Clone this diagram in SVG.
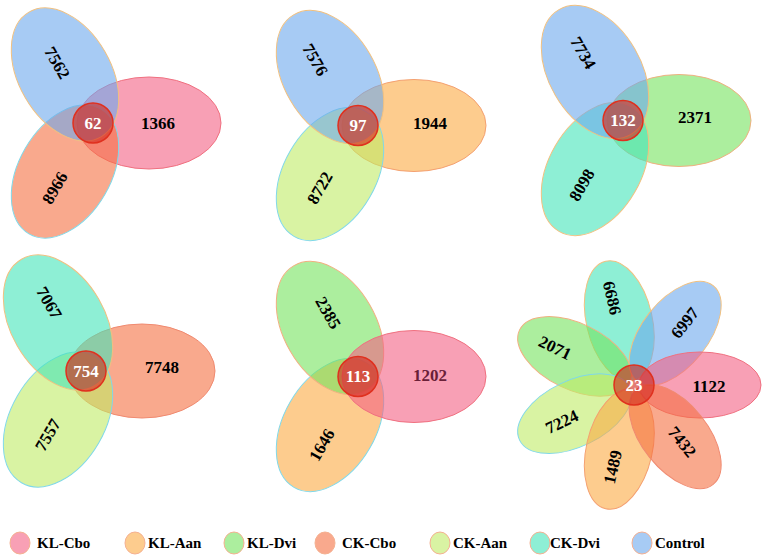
<svg xmlns="http://www.w3.org/2000/svg" width="767" height="556" viewBox="0 0 767 556">
<style>
.p{stroke-width:1}
.pink{fill:#F36184;fill-opacity:.6;stroke:#F07080}
.blue{fill:#6CA8ED;fill-opacity:.6;stroke:#F0C080}
.salmon{fill:#F57041;fill-opacity:.6;stroke:#F08A70}
.orange{fill:#FCAA43;fill-opacity:.6;stroke:#F4A070}
.green{fill:#75E35D;fill-opacity:.6;stroke:#F0B080}
.lgreen{fill:#C0EB66;fill-opacity:.6;stroke:#80D8E8}
.teal{fill:#43E5B9;fill-opacity:.6;stroke:#F0C080}
.cy{stroke:#80D8E8}
.core{fill:#D42A1E;fill-opacity:.62;stroke:#E0301E;stroke-width:1.5}
text{font-family:"Liberation Serif","Times New Roman",serif;font-weight:bold}
.n{font-size:17px;fill:#000;text-anchor:middle;dominant-baseline:central}
.c{font-size:17px;fill:#fff;text-anchor:middle;dominant-baseline:central}
.lg{font-size:15px;fill:#000}
.le{stroke:#F5B090;stroke-width:1}
</style>

<g id="venn1">
<ellipse class="p pink" cx="149" cy="123" rx="72" ry="46"/>
<ellipse class="p salmon cy" cx="149" cy="123" rx="72" ry="46" transform="rotate(120 93 123)"/>
<ellipse class="p blue" cx="149" cy="123" rx="72" ry="46" transform="rotate(240 93 123)"/>
<circle class="core" cx="93" cy="123" r="20"/>
<text class="c" x="93" y="123">62</text>
<text class="n" x="158" y="123">1366</text>
<text class="n" transform="translate(57 63) rotate(60)">7562</text>
<text class="n" transform="translate(55 188) rotate(-60)">8966</text>
</g>

<g id="venn2">
<ellipse class="p orange" cx="414" cy="125.5" rx="72" ry="46"/>
<ellipse class="p lgreen" cx="414" cy="125.5" rx="72" ry="46" transform="rotate(120 358 125.5)"/>
<ellipse class="p blue" cx="414" cy="125.5" rx="72" ry="46" transform="rotate(240 358 125.5)"/>
<circle class="core" cx="358" cy="125.5" r="20"/>
<text class="c" x="358" y="125.5">97</text>
<text class="n" x="430" y="123">1944</text>
<text class="n" transform="translate(315 60) rotate(60)">7576</text>
<text class="n" transform="translate(320 188) rotate(-60)">8722</text>
</g>

<g id="venn3">
<ellipse class="p green" cx="679" cy="120.5" rx="72" ry="46"/>
<ellipse class="p teal" cx="679" cy="120.5" rx="72" ry="46" transform="rotate(120 623 120.5)"/>
<ellipse class="p blue" cx="679" cy="120.5" rx="72" ry="46" transform="rotate(240 623 120.5)"/>
<circle class="core" cx="623" cy="120.5" r="20"/>
<text class="c" x="623" y="120.5">132</text>
<text class="n" x="695" y="117">2371</text>
<text class="n" transform="translate(583 53) rotate(60)">7734</text>
<text class="n" transform="translate(582 185) rotate(-60)">8098</text>
</g>

<g id="venn4">
<ellipse class="p salmon" cx="142" cy="371" rx="73" ry="47"/>
<ellipse class="p lgreen" cx="142" cy="371" rx="73" ry="47" transform="rotate(120 86 371)"/>
<ellipse class="p teal" cx="142" cy="371" rx="73" ry="47" transform="rotate(240 86 371)"/>
<circle class="core" cx="86" cy="371" r="20"/>
<text class="c" x="86" y="371">754</text>
<text class="n" x="162" y="367">7748</text>
<text class="n" transform="translate(49 303) rotate(60)">7067</text>
<text class="n" transform="translate(48 435) rotate(-60)">7557</text>
</g>

<g id="venn5">
<ellipse class="p orange cy" cx="414" cy="376.5" rx="72" ry="46" transform="rotate(120 358 376.5)"/>
<ellipse class="p green" cx="414" cy="376.5" rx="72" ry="46" transform="rotate(240 358 376.5)"/>
<ellipse class="p pink" cx="414" cy="376.5" rx="72" ry="46"/>
<circle class="core" cx="358" cy="376.5" r="20"/>
<text class="c" x="358" y="376.5">113</text>
<text class="n" x="430" y="375" style="fill:#6A2038">1202</text>
<text class="n" transform="translate(328 313) rotate(60)">2385</text>
<text class="n" transform="translate(322 445) rotate(-60)">1646</text>
</g>

<g id="venn6">
<ellipse class="p teal" cx="700" cy="385" rx="61" ry="33" transform="rotate(257.14 634 385)"/>
<ellipse class="p green" cx="700" cy="385" rx="61" ry="33" transform="rotate(205.71 634 385)"/>
<ellipse class="p lgreen" cx="700" cy="385" rx="61" ry="33" transform="rotate(154.29 634 385)"/>
<ellipse class="p orange" cx="700" cy="385" rx="61" ry="33" transform="rotate(102.86 634 385)"/>
<ellipse class="p blue" cx="700" cy="385" rx="61" ry="33" transform="rotate(308.57 634 385)"/>
<ellipse class="p pink" cx="700" cy="385" rx="61" ry="33"/>
<ellipse class="p salmon" cx="700" cy="385" rx="61" ry="33" transform="rotate(51.43 634 385)"/>
<circle class="core" cx="634" cy="385" r="20"/>
<text class="c" x="634" y="385">23</text>
<text class="n" x="709" y="386">1122</text>
<text class="n" transform="translate(685 323) rotate(-51.43)">6997</text>
<text class="n" transform="translate(612 298) rotate(77.14)">6686</text>
<text class="n" transform="translate(555 348) rotate(25.71)">2071</text>
<text class="n" transform="translate(562 422) rotate(-25.71)">7224</text>
<text class="n" transform="translate(613 467) rotate(-77.14)">1489</text>
<text class="n" transform="translate(682 442) rotate(51.43)">7432</text>
</g>

<g id="connectors"></g>

<g id="legend">
<ellipse class="le pink" cx="20" cy="543" rx="10" ry="11"/>
<text class="lg" x="37" y="548">KL-Cbo</text>
<ellipse class="le orange" cx="135" cy="543" rx="10" ry="11"/>
<text class="lg" x="148" y="548">KL-Aan</text>
<ellipse class="le green" cx="234" cy="543" rx="10" ry="11"/>
<text class="lg" x="247" y="548">KL-Dvi</text>
<ellipse class="le salmon" cx="325" cy="543" rx="10" ry="11"/>
<text class="lg" x="342" y="548">CK-Cbo</text>
<ellipse class="le lgreen" cx="440" cy="543" rx="10" ry="11"/>
<text class="lg" x="453" y="548">CK-Aan</text>
<ellipse class="le teal" cx="540" cy="543" rx="10" ry="11"/>
<text class="lg" x="550" y="548">CK-Dvi</text>
<ellipse class="le blue" cx="642" cy="543" rx="10" ry="11"/>
<text class="lg" x="655" y="548">Control</text>
</g>
</svg>
